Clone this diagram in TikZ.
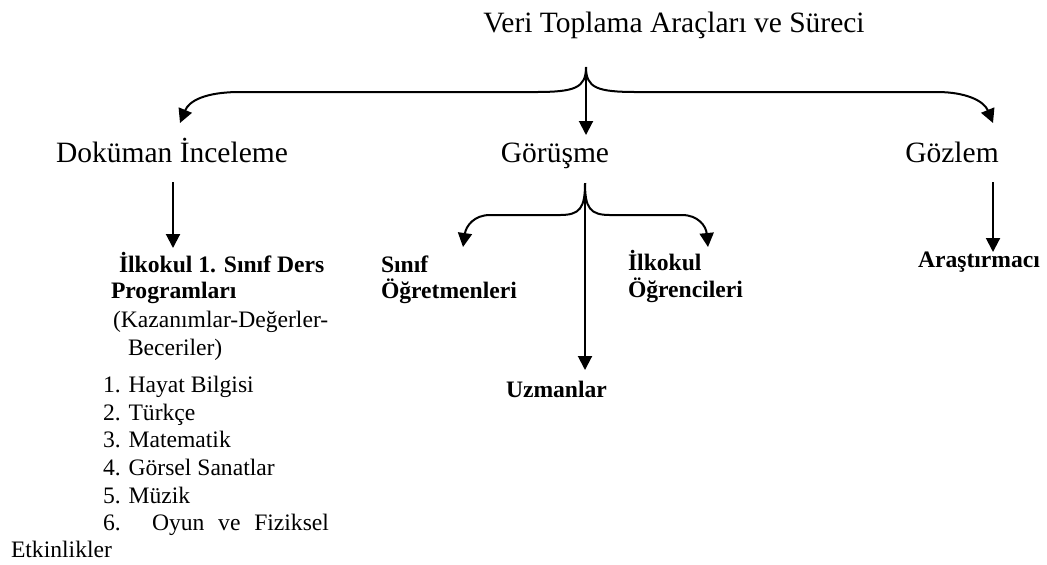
\documentclass[tikz,border=0pt]{standalone}
\usepackage{fontspec}
\setmainfont{Liberation Serif}
\usetikzlibrary{arrows.meta}
\begin{document}
\begin{tikzpicture}[x=0.5pt, y=-0.5pt, >={Triangle[length=7pt,width=7pt]}, line width=1pt,
    big/.style={inner sep=0pt, anchor=base, font=\fontsize{14.75}{18}\selectfont},
    txt/.style={inner sep=0pt, anchor=base west, font=\fontsize{11.8}{13.5}\selectfont},
    bold/.style={txt, font=\fontsize{11.8}{13.5}\selectfont\bfseries}]
\useasboundingbox (0,0) rectangle (1047,564);

\node[big] (veri) at (674,32) {Veri Toplama Araçları ve Süreci};
\node[big] (dok) at (172,162) {Doküman İnceleme};
\node[big] (gor) at (555,162) {Görüşme};
\node[big] (goz) at (952,162) {Gözlem};

% ana dallar
\coordinate (ayrim) at (586,67);
\coordinate (dokuc) at (180,123);
\coordinate (goruc) at (586,135);
\coordinate (gozuc) at (993,123);
\draw[->](ayrim) .. controls (586,88) and (575,92) .. (535,92) -- (240,92) .. controls (205,92) and (189,101) .. (dokuc);
\draw[->](ayrim) .. controls (586,88) and (597,92) .. (637,92) -- (937,92) .. controls (966,92) and (984,101) .. (gozuc);
\draw[->](ayrim)--(goruc);

% doküman inceleme
\coordinate (dokbas) at (173,182);
\coordinate (dokson) at (173,248);
\draw[->](dokbas)--(dokson);
\node[bold] (prog1) at (118,272) {İlkokul 1. Sınıf Ders};
\node[bold] (prog2) at (110,298) {Programları};
\node[txt] (kaz1) at (112,327) {(Kazanımlar-Değerler-};
\node[txt] (kaz2) at (127,355) {Beceriler)};
\node[txt] (ders1) at (102,392) {1. Hayat Bilgisi};
\node[txt] (ders2) at (102,420) {2. Türkçe};
\node[txt] (ders3) at (102,447) {3. Matematik};
\node[txt] (ders4) at (102,475) {4. Görsel Sanatlar};
\node[txt] (ders5) at (102,503) {5. Müzik};
\node[txt] (ders6) at (102,530) {\makebox[113pt][s]{6. Oyun ve Fiziksel}};
\node[txt] (ders6b) at (10,557) {Etkinlikler};

% görüşme
\coordinate (gorbas) at (585,183);
\coordinate (ogrtuc) at (463,247);
\coordinate (ogrnuc) at (708,247);
\coordinate (uzmuc) at (585,370);
\draw[->](gorbas) .. controls (585,208) and (580,215) .. (560,215) -- (490,215) .. controls (474,215) and (466,226) .. (ogrtuc);
\draw[->](gorbas) .. controls (585,208) and (590,215) .. (610,215) -- (682,215) .. controls (698,215) and (706,226) .. (ogrnuc);
\draw[->](gorbas)--(uzmuc);
\node[bold] (ogrt1) at (380,272) {Sınıf};
\node[bold] (ogrt2) at (380,298) {Öğretmenleri};
\node[bold] (ogrn1) at (627,270) {İlkokul};
\node[bold] (ogrn2) at (627,297) {Öğrencileri};
\node[bold] (uzm) at (505,397) {Uzmanlar};

% gözlem
\coordinate (gozbas) at (993,182);
\coordinate (gozson) at (993,252);
\draw[->](gozbas)--(gozson);
\node[bold] (arst) at (917,267) {Araştırmacı};

\end{tikzpicture}
\end{document}
